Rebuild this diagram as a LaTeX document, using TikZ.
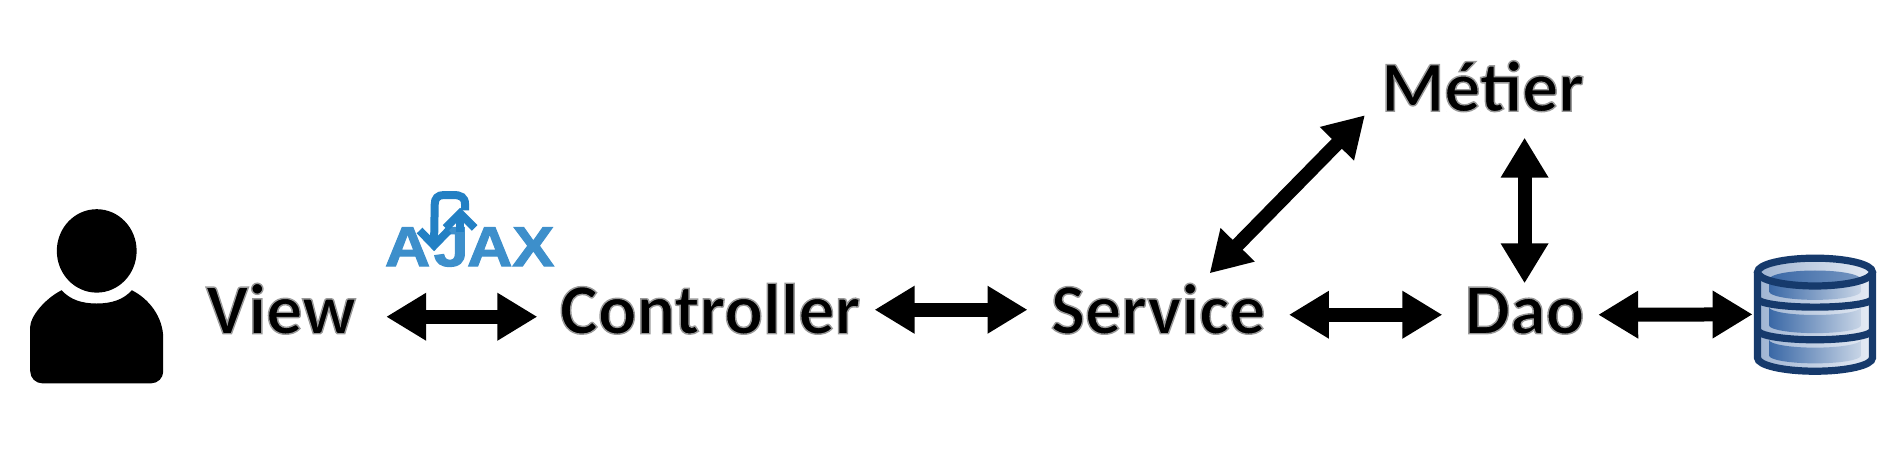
\documentclass[tikz,border=0pt]{standalone}
\usepackage{fontspec}
\setmainfont{Carlito}
\newfontfamily\lblfont[FakeBold=2]{Carlito Bold}
\newfontfamily\logofont[FakeBold=2,FakeStretch=1.12]{Liberation Sans Bold}
\usepackage{tikz}
\usetikzlibrary{arrows.meta,positioning}
\definecolor{dbnavy}{HTML}{163A6C}
\definecolor{dbblue}{HTML}{3A68A6}
\definecolor{dbpale}{HTML}{C8D5E6}
\definecolor{dbrimA}{HTML}{9FB4D2}
\definecolor{dbrimB}{HTML}{E6ECF5}
\definecolor{ajaxblue}{HTML}{3D8FCB}
\definecolor{ajaxdark}{HTML}{2380C4}
\newcommand{\lbl}[1]{\special{pdf:code q 0.6 G}#1\special{pdf:code Q}}
\tikzset{
  word/.style  = {inner sep=0pt, text height=26pt, text depth=0pt, font=\lblfont\fontsize{36}{40}\selectfont},
  link/.style  = {{Triangle[length=20pt,width=22.5pt]}-{Triangle[length=20pt,width=22.5pt]}, line width=7pt},
  ajaxline/.style = {ajaxdark, line width=4pt},
  rim/.style   = {left color=dbrimA, right color=dbrimB},
  panel/.style = {left color=dbblue, right color=dbpale},
  band/.style  = {draw=dbnavy, line width=3.6pt},
}
\begin{document}
\begin{tikzpicture}[x=0.6046pt,y=-0.6046pt]
    \useasboundingbox (0,0) rectangle (1568,380.4);
    \fill (80,207.5) ellipse (33 and 34.5);
    \fill (25,280) .. controls (25,262) and (37,247) .. (51,240) .. controls (58,248) and (68,251) .. (80,251)
      .. controls (92,251) and (102,248) .. (109,240) .. controls (123,247) and (135,262) .. (135,280)
      [rounded corners=6pt] -- (135,317) -- (25,317) -- cycle;

    \node[word,anchor=base west] (view) at (170,276) {\lbl{View}};
    \node[word,base right=101.6pt of view] (ctrl) {\lbl{Controller}};
    \node[word,base right=95pt of ctrl] (serv) {\lbl{Service}};
    \node[word,base right=99.2pt of serv] (dao) {\lbl{Dao}};
    \node[word,anchor=base west] (metier) at (1142,92) {\lbl{Métier}};
    \node[inner sep=0pt,minimum width=60pt,minimum height=60pt] (db) at (1501,260) {};
    \node[inner sep=0pt,anchor=base west,text=ajaxblue,font=\logofont\fontsize{28}{30}\selectfont] (ajax) at (318,220)
      {A\kern1.8pt J\kern-0.8pt AX};

    \draw[ajaxline] (384.6,174) -- (384.6,169) .. controls (384.6,163) and (381,161.3) .. (375,161.3) -- (367,161.3)
      .. controls (362,161.3) and (359.5,164) .. (359.5,169) -- (359,200);
    \draw[ajaxline] (347,190.6) -- (359,203) -- (371,190.6);
    \draw[ajaxline] (380.5,192) -- (380.5,178);
    \draw[ajaxline] (368.5,188.5) -- (380.5,176.5) -- (392.5,188.5);

    \shade[rim] (1453.5,225) -- (1453.5,296) arc[start angle=180,end angle=0,x radius=47.5,y radius=11] -- (1548.5,225)
      arc[start angle=0,end angle=-180,x radius=47.5,y radius=11.5] -- cycle;
    \shade[panel] (1463,231) -- (1463,241) arc[start angle=180,end angle=0,x radius=38,y radius=7] -- (1539,231)
      arc[start angle=0,end angle=180,x radius=38,y radius=7] -- cycle;
    \shade[left color=dbblue,right color=dbblue!70!white] (1501,231) ellipse (38 and 7.3);
    \foreach \ytop/\ybot in {254/269,281/294}
      \shade[panel] (1463,\ytop) arc[start angle=180,end angle=0,x radius=38,y radius=6.5] -- (1539,\ybot)
        arc[start angle=0,end angle=180,x radius=38,y radius=6.5] -- cycle;
    \draw[band] (1501,225) ellipse (47.5 and 11.5);
    \draw[band] (1453.5,225) -- (1453.5,296) arc[start angle=180,end angle=0,x radius=47.5,y radius=11] -- (1548.5,225);
    \foreach \ysep/\ry in {247/7,273/8}
      \draw[band] (1453.5,\ysep) arc[start angle=180,end angle=0,x radius=47.5,y radius=\ry];

    \draw[link] ([xshift=15pt,yshift=-4.5pt]view.east) -- ([xshift=-11pt,yshift=-4.5pt]ctrl.west);
    \draw[link] ([xshift=7pt,yshift=-1pt]ctrl.east) -- ([xshift=-11.5pt,yshift=-1pt]serv.west);
    \draw[link] ([xshift=11.5pt,yshift=-3.5pt]serv.east) -- ([xshift=-11pt,yshift=-3.5pt]dao.west);
    \draw[link] ([xshift=6.7pt,yshift=-3.5pt]dao.east) -- ([xshift=-1pt]db.west);
    \draw[link] ([xshift=25.7pt,yshift=4pt]serv.north) -- ([xshift=-8pt,yshift=-15pt]metier.west);
    \draw[link] ([yshift=-13pt]metier.south -| dao.north) -- ([yshift=-1pt]dao.north);
\end{tikzpicture}
\end{document}
